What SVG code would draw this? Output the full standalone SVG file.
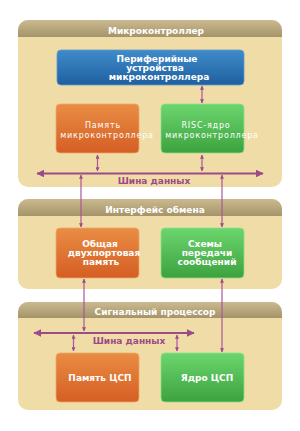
<svg xmlns="http://www.w3.org/2000/svg" width="300" height="431" viewBox="0 0 300 431">
<defs>
<linearGradient id="gHead" x1="0" y1="0" x2="0" y2="1"><stop offset="0" stop-color="#cbb98f"/><stop offset="1" stop-color="#a5936a"/></linearGradient>
<linearGradient id="gBlue" x1="0" y1="0" x2="0" y2="1"><stop offset="0" stop-color="#3f8ccb"/><stop offset="1" stop-color="#1f5f9f"/></linearGradient>
<linearGradient id="gOrange" x1="0" y1="0" x2="0" y2="1"><stop offset="0" stop-color="#e98d44"/><stop offset="1" stop-color="#d55e24"/></linearGradient>
<linearGradient id="gGreen" x1="0" y1="0" x2="0" y2="1"><stop offset="0" stop-color="#6cd66e"/><stop offset="1" stop-color="#3ca23e"/></linearGradient>
<marker id="aS" viewBox="0 0 6 6" refX="5.5" refY="3" markerWidth="4" markerHeight="4" markerUnits="userSpaceOnUse" orient="auto-start-reverse"><path d="M0,0 L6,3 L0,6 z" fill="#9c4a88"/></marker>
<marker id="aB" viewBox="0 0 6 6" refX="5.5" refY="3" markerWidth="3.5" markerHeight="3.5" orient="auto-start-reverse"><path d="M0,0 L6,3 L0,6 z" fill="#9c4a88"/></marker>
</defs>
<style>
.body{fill:#f0dca7}
.head{fill:url(#gHead)}
.title{font-family:"DejaVu Sans",sans-serif;font-weight:bold;font-size:9px;fill:#ffffff;text-anchor:middle}
.bt{font-family:"DejaVu Sans",sans-serif;font-weight:bold;font-size:9px;fill:#ffffff;text-anchor:middle}
.nt{font-family:"DejaVu Sans",sans-serif;font-size:8px;fill:#ffffff;text-anchor:middle;letter-spacing:0.8px}
.bus{font-family:"DejaVu Sans",sans-serif;font-weight:bold;font-size:9px;fill:#9c4a88;text-anchor:middle}
.blue{fill:url(#gBlue);stroke:#5d9bd0;stroke-width:0.8}
.orange{fill:url(#gOrange);stroke:#f0a765;stroke-width:0.8}
.green{fill:url(#gGreen);stroke:#8ae08a;stroke-width:0.8}
.thin{stroke:#a9589a;stroke-width:1.2;fill:none;marker-start:url(#aS);marker-end:url(#aS)}
.thick{stroke:#9c4a88;stroke-width:2.2;fill:none;marker-start:url(#aB);marker-end:url(#aB)}
</style>

<g id="container-mcu">
<rect class="body" x="18" y="20" width="264" height="167" rx="10"/>
<path class="head" d="M28,20 H272 A10,10 0 0 1 282,30 V37 H18 V30 A10,10 0 0 1 28,20 Z"/>
<text class="title" x="156" y="34">Микроконтроллер</text>
</g>
<g id="container-iface">
<rect class="body" x="18" y="199" width="264" height="90" rx="10"/>
<path class="head" d="M28,199 H272 A10,10 0 0 1 282,209 V216 H18 V209 A10,10 0 0 1 28,199 Z"/>
<text class="title" x="155" y="213">Интерфейс обмена</text>
</g>
<g id="container-dsp">
<rect class="body" x="18" y="302" width="264" height="108" rx="10"/>
<path class="head" d="M28,302 H272 A10,10 0 0 1 282,312 V318 H18 V312 A10,10 0 0 1 28,302 Z"/>
<text class="title" x="155" y="315">Сигнальный процессор</text>
</g>

<g id="periph">
<rect class="blue" x="57" y="50" width="187" height="35" rx="4"/>
<text class="bt" x="157" y="62">Периферийные</text>
<text class="bt" x="155" y="71">устройства</text>
<text class="bt" x="159" y="80">микроконтроллера</text>
</g>
<g id="mcu-mem">
<rect class="orange" x="56" y="104" width="83" height="49" rx="4"/>
<text class="nt" x="103" y="127.5">Память</text>
<text class="nt" x="107" y="137.5">микроконтроллера</text>
</g>
<g id="risc">
<rect class="green" x="161" y="104" width="83" height="49" rx="4"/>
<text class="nt" x="206" y="127.5">RISC-ядро</text>
<text class="nt" x="212" y="137.5">микроконтроллера</text>
</g>
<g id="dpram">
<rect class="orange" x="56" y="228" width="83" height="50" rx="4"/>
<text class="bt" x="100" y="247">Общая</text>
<text class="bt" x="104" y="256">двухпортовая</text>
<text class="bt" x="101" y="265">память</text>
</g>
<g id="msg">
<rect class="green" x="161" y="228" width="83" height="50" rx="4"/>
<text class="bt" x="205" y="247">Схемы</text>
<text class="bt" x="207" y="256">передачи</text>
<text class="bt" x="207" y="265">сообщений</text>
</g>
<g id="dsp-mem">
<rect class="orange" x="56" y="353" width="83" height="49" rx="4"/>
<text class="bt" x="100" y="381">Память ЦСП</text>
</g>
<g id="dsp-core">
<rect class="green" x="161" y="353" width="83" height="49" rx="4"/>
<text class="bt" x="207" y="381">Ядро ЦСП</text>
</g>

<g id="connectors">
<line class="thick" x1="37" y1="173.5" x2="263" y2="173.5"/>
<text class="bus" x="154" y="184">Шина данных</text>
<line class="thin" x1="202" y1="86" x2="202" y2="103"/>
<line class="thin" x1="97.5" y1="155" x2="97.5" y2="171"/>
<line class="thin" x1="202" y1="155" x2="202" y2="171"/>
<line class="thin" x1="81" y1="175" x2="81" y2="227"/>
<line class="thin" x1="222" y1="175" x2="222" y2="227"/>
<line class="thin" x1="84" y1="279" x2="84" y2="331"/>
<line class="thin" x1="222" y1="279" x2="222" y2="352"/>
<line class="thick" x1="34" y1="333" x2="194" y2="333"/>
<text class="bus" x="129" y="344">Шина данных</text>
<line class="thin" x1="73.5" y1="335" x2="73.5" y2="351"/>
<line class="thin" x1="177" y1="335" x2="177" y2="351"/>
</g>
</svg>
